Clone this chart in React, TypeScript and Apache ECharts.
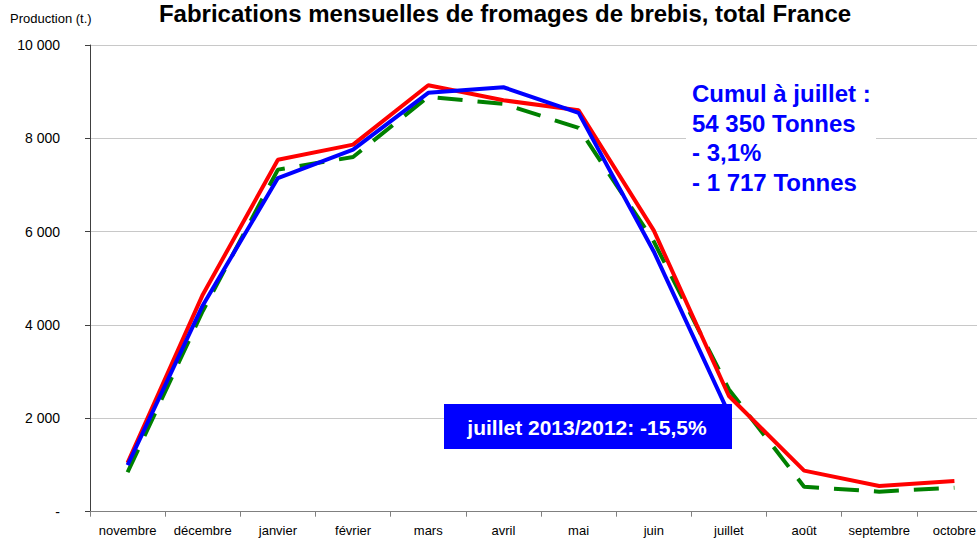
import React, { useEffect, useRef } from "react";
import * as echarts from "echarts";

const categories = [
  "novembre", "décembre", "janvier", "février", "mars", "avril",
  "mai", "juin", "juillet", "août", "septembre", "octobre",
];
// 2011/2012 campaign (red)
const serieRouge = [1045, 4650, 7540, 7866, 9138, 8816, 8601, 6028, 2480, 880, 551, 658];
// 2012/2013 campaign (blue), until July
const serieBleue = [1000, 4420, 7150, 7760, 8975, 9095, 8546, 5577, 2100, null, null, null];
// reference campaign (green dashed)
const serieVerte = [845, 4300, 7330, 7600, 8889, 8739, 8224, 5792, 2620, 536, 430, 515];
const yTicks = [0, 2000, 4000, 6000, 8000, 10000];
const cumulLines = ["Cumul à juillet :", "54 350 Tonnes", "- 3,1%", "- 1 717 Tonnes"];

const fontFamily = "'Liberation Sans', Arial, sans-serif";

function fmt(v: number): string {
  if (v === 0) return "-";
  return String(v).replace(/\B(?=(\d{3})+(?!\d))/g, " ");
}

export default function App() {
  const ref = useRef<HTMLDivElement>(null);
  useEffect(() => {
    if (!ref.current) return;
    const chart = echarts.init(ref.current, undefined, { renderer: "svg" });
    const option: any = {
      animation: false,
      backgroundColor: "#ffffff",
      textStyle: { fontFamily },
      grid: { left: 90, top: 45, bottom: 27.3, right: 8, containLabel: false },
      xAxis: {
        type: "category",
        data: categories,
        boundaryGap: true,
        axisLine: { show: true, lineStyle: { color: "#808080", width: 1 } },
        axisTick: { show: true, length: 5, lineStyle: { color: "#808080" } },
        axisLabel: { color: "#000", fontSize: 13, margin: 12, fontFamily, interval: 0 },
        splitLine: { show: false },
      },
      yAxis: {
        type: "value",
        min: yTicks[0],
        max: yTicks[yTicks.length - 1],
        interval: 2000,
        axisLine: { show: true, lineStyle: { color: "#404040", width: 1 } },
        axisTick: { show: true, length: 5, lineStyle: { color: "#404040" } },
        axisLabel: { color: "#000", fontSize: 14, margin: 30, fontFamily, formatter: (v: number) => fmt(v) },
        splitLine: { show: true, lineStyle: { color: "#c8c8c8", width: 1 } },
      },
      series: [
        {
          type: "line",
          data: serieVerte,
          symbol: "none",
          lineStyle: { color: "#008000", width: 4, type: [25, 15] },
          z: 2,
        },
        {
          type: "line",
          data: serieRouge,
          symbol: "none",
          lineStyle: { color: "#ff0000", width: 4 },
          z: 3,
        },
        {
          type: "line",
          data: serieBleue,
          symbol: "none",
          lineStyle: { color: "#0000ff", width: 4 },
          z: 4,
        },
      ],
      graphic: [
        {
          type: "text",
          x: 505,
          y: 13,
          style: {
            text: "Fabrications mensuelles de fromages de brebis, total France",
            font: `bold 24px ${fontFamily}`,
            fill: "#000",
            align: "center",
            verticalAlign: "middle",
          },
          z: 10,
        },
        {
          type: "text",
          x: 10,
          y: 18,
          style: {
            text: "Production (t.)",
            font: `13px ${fontFamily}`,
            fill: "#000",
            align: "left",
            verticalAlign: "middle",
          },
          z: 10,
        },
        {
          type: "rect",
          shape: { x: 686, y: 76, width: 190, height: 122 },
          style: { fill: "#ffffff" },
          z: 10,
        },
        ...cumulLines.map((t, i) => ({
          type: "text",
          x: 692,
          y: 93.5 + i * 29.5,
          style: {
            text: t,
            font: `bold 24px ${fontFamily}`,
            fill: "#0000ff",
            align: "left",
            verticalAlign: "middle",
          },
          z: 11,
        })),
        {
          type: "rect",
          shape: { x: 444, y: 404, width: 288, height: 45 },
          style: { fill: "#0000ff" },
          z: 10,
        },
        {
          type: "text",
          x: 587,
          y: 427,
          style: {
            text: "juillet 2013/2012: -15,5%",
            font: `bold 21px ${fontFamily}`,
            fill: "#ffffff",
            align: "center",
            verticalAlign: "middle",
          },
          z: 11,
        },
      ],
    };
    chart.setOption(option);
    return () => chart.dispose();
  }, []);
  return (
    <div style={{ position: "fixed", left: 0, top: 0, width: 977, height: 539, overflow: "hidden" }}>
      <div ref={ref} style={{ width: 1000, height: 539 }} />
    </div>
  );
}
